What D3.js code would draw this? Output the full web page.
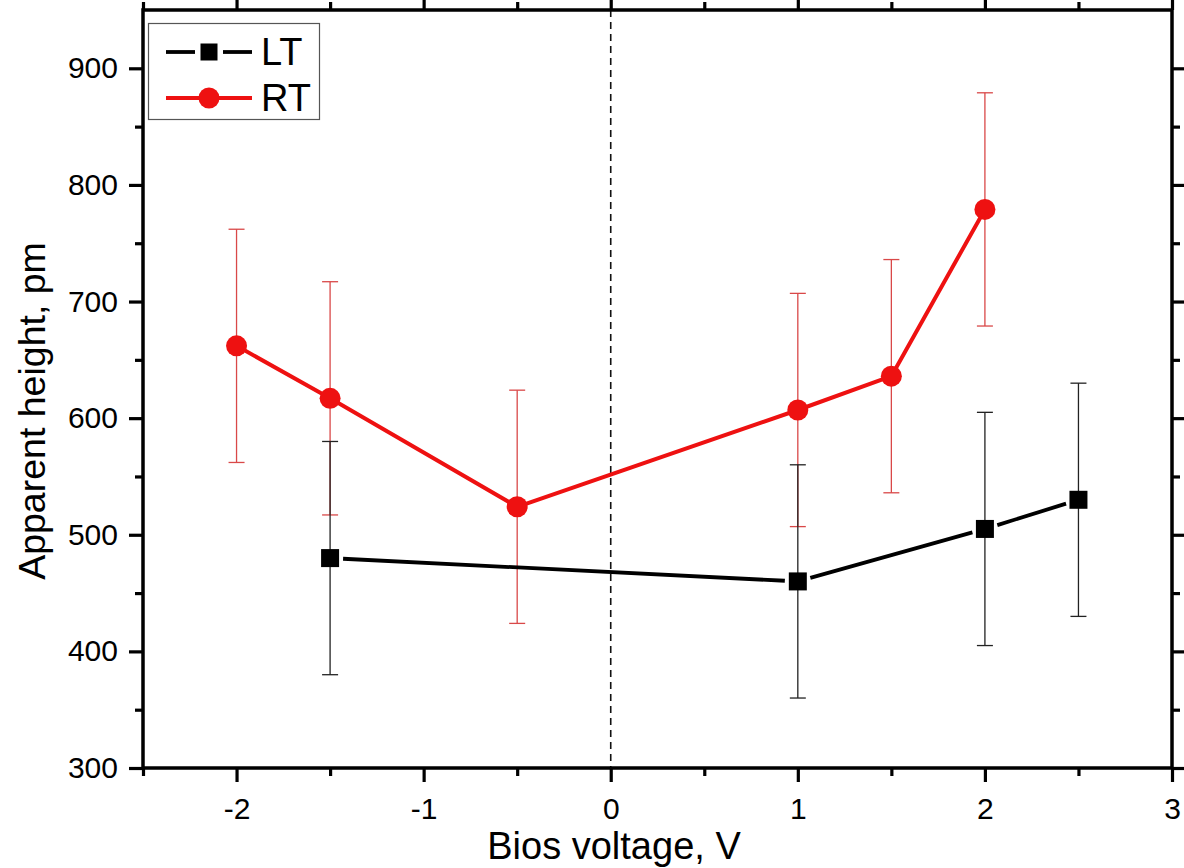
<!DOCTYPE html>
<html>
<head>
<meta charset="utf-8">
<script src="https://cdn.jsdelivr.net/npm/d3@7"></script>
<style>
  html, body { margin: 0; padding: 0; background: #fff; }
  svg { display: block; font-family: "Liberation Sans", Arial, sans-serif; }
</style>
</head>
<body>
<svg id="chart" width="1184" height="868"></svg>
<script>
// Bias voltage (V) and apparent height (pm) with ±error, two temperatures
const ltVoltage = [-1.5, 1, 2, 2.5];
const ltHeight  = [480, 460, 505, 530];
const ltError   = [100, 100, 100, 100];

const rtVoltage = [-2, -1.5, -0.5, 1, 1.5, 2];
const rtHeight  = [662, 617, 524, 607, 636, 779];
const rtError   = [100, 100, 100, 100, 100, 100];

const xTicks = [-2, -1, 0, 1, 2, 3];
const xMinorTicks = [-2.5, -1.5, -0.5, 0.5, 1.5, 2.5];
const yTicks = [300, 400, 500, 600, 700, 800, 900];
const yMinorTicks = [350, 450, 550, 650, 750, 850];

const seriesNames = ["LT", "RT"];

const svg = d3.select("#chart");
const plotLeft = 143, plotRight = 1172, plotTop = 10, plotBottom = 768;

const x = d3.scaleLinear().domain([-2.5, 3]).range([plotLeft, plotRight]);
const y = d3.scaleLinear().domain([300, 950]).range([plotBottom, plotTop]);

const RED = "#ee1111";
const RED_ERR = "#d94848";
const plainNum = d => String(d);

// dashed reference line at zero bias
svg.append("line")
  .attr("x1", x(0)).attr("x2", x(0))
  .attr("y1", y(950)).attr("y2", y(300))
  .attr("stroke", "#111").attr("stroke-width", 1.6)
  .attr("stroke-dasharray", "7,5");

// axes: bottom/left outward ticks, top/right inward ticks
function drawAxis(axisGen, transform, labels) {
  const g = svg.append("g").attr("transform", transform).call(axisGen);
  g.select(".domain").remove();
  g.selectAll(".tick line").attr("stroke", "#000").attr("stroke-width", 3.2);
  if (!labels) g.selectAll(".tick text").remove();
  else g.selectAll(".tick text").attr("fill", "#000").attr("font-size", 30);
  return g;
}

drawAxis(d3.axisBottom(x).tickValues(xTicks).tickSize(14).tickPadding(10).tickFormat(plainNum),
  `translate(0,${plotBottom})`, true)
  .selectAll(".tick text").attr("dy", "0.9em");
drawAxis(d3.axisBottom(x).tickValues(xMinorTicks).tickSize(8).tickFormat(""), `translate(0,${plotBottom})`, false);
drawAxis(d3.axisBottom(x).tickValues(xTicks).tickSize(-13).tickFormat(""), `translate(0,${plotTop})`, false);
drawAxis(d3.axisBottom(x).tickValues(xMinorTicks).tickSize(-8).tickFormat(""), `translate(0,${plotTop})`, false);

drawAxis(d3.axisLeft(y).tickValues(yTicks).tickSize(14).tickPadding(11).tickFormat(plainNum),
  `translate(${plotLeft},0)`, true);
drawAxis(d3.axisLeft(y).tickValues(yMinorTicks).tickSize(8).tickFormat(""), `translate(${plotLeft},0)`, false);
drawAxis(d3.axisLeft(y).tickValues(yTicks).tickSize(-14).tickFormat(""), `translate(${plotRight},0)`, false);
drawAxis(d3.axisLeft(y).tickValues(yMinorTicks).tickSize(-8).tickFormat(""), `translate(${plotRight},0)`, false);

// frame
svg.append("rect")
  .attr("x", plotLeft).attr("y", plotTop)
  .attr("width", plotRight - plotLeft).attr("height", plotBottom - plotTop)
  .attr("fill", "none").attr("stroke", "#000").attr("stroke-width", 3.5);

// axis titles
svg.append("text")
  .attr("x", 614).attr("y", 859)
  .attr("text-anchor", "middle").attr("font-size", 38)
  .text("Bios voltage, V");
svg.append("text")
  .attr("transform", "translate(45,411) rotate(-90)")
  .attr("text-anchor", "middle").attr("font-size", 37.5)
  .text("Apparent height, pm");

const lt = ltVoltage.map((v, i) => ({ v, h: ltHeight[i], e: ltError[i] }));
const rt = rtVoltage.map((v, i) => ({ v, h: rtHeight[i], e: rtError[i] }));

function errorBars(data, color) {
  const g = svg.append("g").attr("stroke", color).attr("stroke-width", 1.3).attr("fill", "none");
  data.forEach(d => {
    g.append("line").attr("x1", x(d.v)).attr("x2", x(d.v))
      .attr("y1", y(d.h - d.e)).attr("y2", y(d.h + d.e));
    [d.h - d.e, d.h + d.e].forEach(val => {
      g.append("line").attr("x1", x(d.v) - 8).attr("x2", x(d.v) + 8)
        .attr("y1", y(val)).attr("y2", y(val));
    });
  });
}

errorBars(rt, RED_ERR);
errorBars(lt, "#222");

// RT: continuous line through circles
svg.append("path")
  .datum(rt)
  .attr("d", d3.line().x(d => x(d.v)).y(d => y(d.h)))
  .attr("fill", "none").attr("stroke", RED).attr("stroke-width", 4)
  .attr("stroke-linejoin", "round");

// LT: segments stop short of the square markers
const gap = 13;
for (let i = 0; i < lt.length - 1; i++) {
  const x0 = x(lt[i].v), y0 = y(lt[i].h), x1 = x(lt[i + 1].v), y1 = y(lt[i + 1].h);
  const len = Math.hypot(x1 - x0, y1 - y0);
  const ux = (x1 - x0) / len, uy = (y1 - y0) / len;
  svg.append("line")
    .attr("x1", x0 + ux * gap).attr("y1", y0 + uy * gap)
    .attr("x2", x1 - ux * gap).attr("y2", y1 - uy * gap)
    .attr("stroke", "#000").attr("stroke-width", 3.8);
}

svg.append("g").selectAll("circle").data(rt).join("circle")
  .attr("cx", d => x(d.v)).attr("cy", d => y(d.h)).attr("r", 10.5)
  .attr("fill", RED);

svg.append("g").selectAll("rect").data(lt).join("rect")
  .attr("x", d => x(d.v) - 9).attr("y", d => y(d.h) - 9)
  .attr("width", 18).attr("height", 18).attr("fill", "#000");

// legend
const lg = svg.append("g");
lg.append("rect").attr("x", 148.5).attr("y", 23.5).attr("width", 171).attr("height", 96)
  .attr("fill", "#fff").attr("stroke", "#555").attr("stroke-width", 1.2);
lg.append("line").attr("x1", 166).attr("x2", 195).attr("y1", 52).attr("y2", 52)
  .attr("stroke", "#000").attr("stroke-width", 3.8);
lg.append("line").attr("x1", 223).attr("x2", 252).attr("y1", 52).attr("y2", 52)
  .attr("stroke", "#000").attr("stroke-width", 3.8);
lg.append("rect").attr("x", 200.5).attr("y", 43.5).attr("width", 17).attr("height", 17).attr("fill", "#000");
lg.append("line").attr("x1", 166).attr("x2", 252).attr("y1", 98).attr("y2", 98)
  .attr("stroke", RED).attr("stroke-width", 4);
lg.append("circle").attr("cx", 209).attr("cy", 98).attr("r", 10.5).attr("fill", RED);
lg.selectAll("text.lab").data(seriesNames).join("text")
  .attr("class", "lab")
  .attr("x", 261).attr("y", (d, i) => 65 + i * 46)
  .attr("font-size", 38).attr("fill", "#000")
  .text(d => d);
</script>
</body>
</html>
